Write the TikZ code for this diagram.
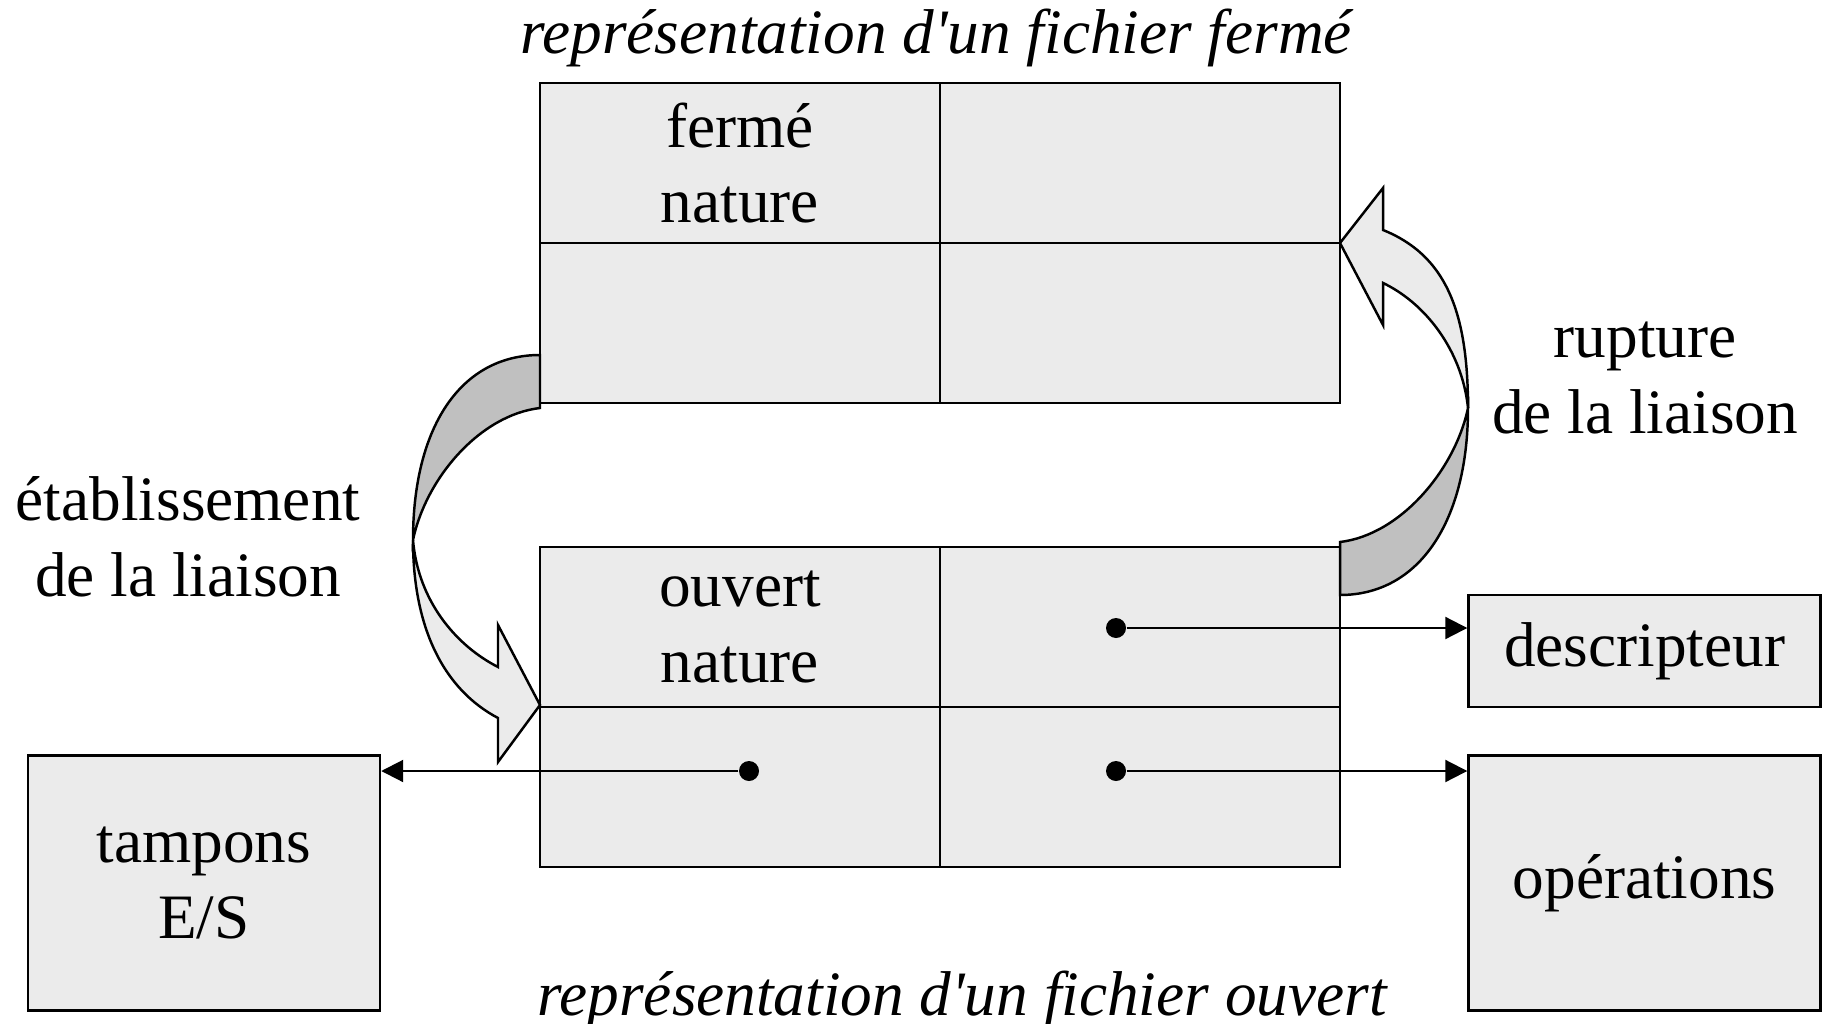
\documentclass[tikz,border=0pt]{standalone}
\usepackage{fontspec}
\setmainfont{Liberation Serif}[Ligatures=TeXOff]
\usepackage{tikz}
\usetikzlibrary{arrows.meta, positioning, calc}
\definecolor{cellgray}{RGB}{235,235,235}
\definecolor{bandgray}{RGB}{192,192,192}
\tikzstyle{cell} = [rectangle, draw, line width=0.7pt, fill=cellgray, minimum width=4cm, minimum height=1.6cm, inner sep=0pt, align=center, font=\fontsize{18}{21.6}\selectfont]
\tikzstyle{extbox} = [rectangle, draw, line width=0.7pt, fill=cellgray, minimum width=3.52cm, inner sep=0pt, align=center, font=\fontsize{18}{21.6}\selectfont]
\tikzstyle{note} = [align=center, font=\fontsize{18}{21.6}\selectfont]
\tikzstyle{title} = [anchor=base, font=\fontsize{18}{21.6}\selectfont\itshape]
\tikzstyle{dot} = [circle, fill=black, inner sep=0pt, minimum size=2mm]
\tikzstyle{link} = [line width=0.6pt, -{Triangle[length=2.2mm, width=2.2mm]}]
\tikzstyle{band} = [line width=0.7pt, fill=bandgray]
\tikzstyle{turn} = [line width=0.7pt, fill=cellgray]

\begin{document}
\begin{tikzpicture}[x=0.1mm, y=-0.1mm]
    \useasboundingbox (0,0) rectangle (1823,1024);

    % Titles
    \node[title] (tclosed) at (936,54) {représentation d'un fichier fermé};
    \node[title] (topen) at (962,1015) {représentation d'un fichier ouvert};

    % Closed file
    \node[cell] (fl) at (740,163) {fermé\\nature};
    \node[cell] (fr) at (1140,163) {};
    \node[cell] (fbl) at (740,323) {};
    \node[cell] (fbr) at (1140,323) {};

    % Open file
    \node[cell] (ol) at (740,627) {ouvert\\nature};
    \node[cell] (or) at (1140,627) {};
    \node[cell] (obl) at (740,787) {};
    \node[cell] (obr) at (1140,787) {};

    % Outside boxes
    \node[extbox, minimum height=1.12cm] (desc) at (1644.5,651) {descripteur};
    \node[extbox, minimum height=2.55cm] (ops) at (1644.5,883) {opérations};
    \node[extbox, minimum height=2.55cm] (tamp) at (204,883) {tampons\\E/S};

    % Pointers
    \node[dot] (pdesc) at (1116,628) {};
    \node[dot] (ptamp) at (749,771) {};
    \node[dot] (pops) at (1116,771) {};
    \draw[link] (pdesc) -- (pdesc -| desc.west);
    \draw[link] (ptamp) -- (ptamp -| tamp.east);
    \draw[link] (pops) -- (pops -| ops.west);

    % Opening
    \draw[band] (540,355) .. controls (460,355) and (413,428) .. (413,540) .. controls (426,478) and (480,415) .. (540,408) -- cycle;
    \draw[turn] (413,540) .. controls (413,630) and (445,690) .. (498,718) -- (498,762) -- (540,705) -- (498,625) -- (498,667) .. controls (455,645) and (418,600) .. (413,540) -- cycle;
    \node[note] (lopen) at (188,537) {établissement\\de la liaison};

    % Closing
    \draw[band] (1340,595) .. controls (1420,595) and (1468,520) .. (1468,408) .. controls (1455,470) and (1400,535) .. (1340,542) -- cycle;
    \draw[turn] (1468,408) .. controls (1468,310) and (1445,255) .. (1383,230) -- (1383,188) -- (1340,243) -- (1383,325) -- (1383,283) .. controls (1425,303) and (1462,350) .. (1468,408) -- cycle;
    \node[note] (lclose) at (1645,378) {rupture\\de la liaison};
\end{tikzpicture}
\end{document}
